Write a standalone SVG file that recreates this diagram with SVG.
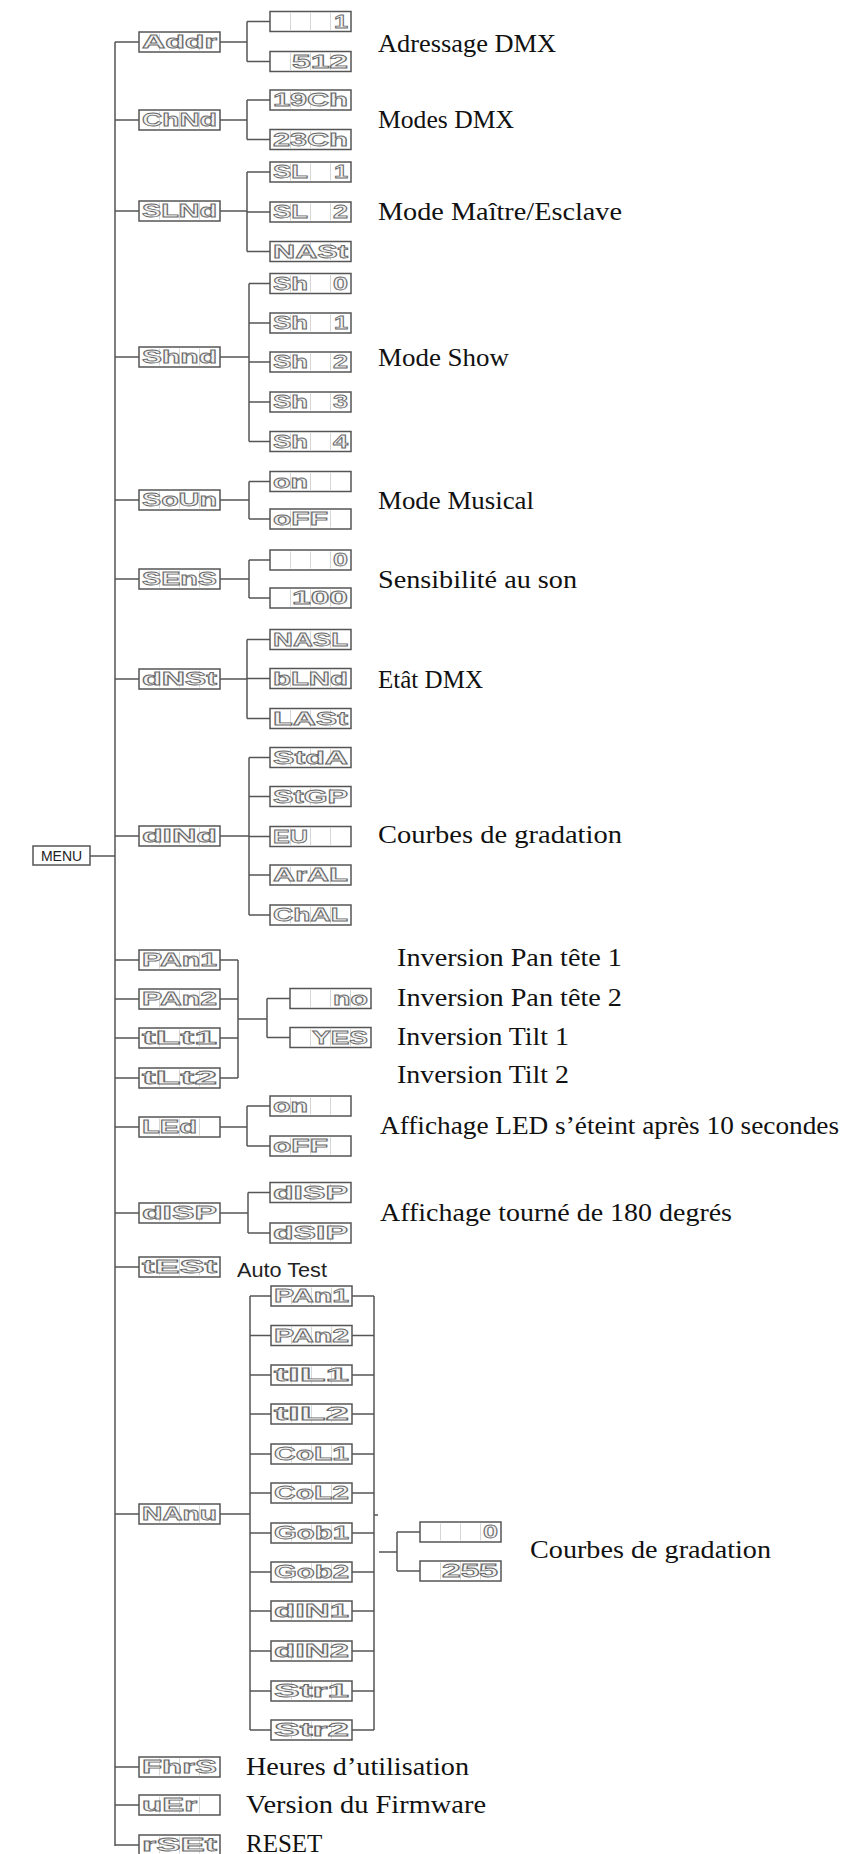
<svg xmlns="http://www.w3.org/2000/svg" width="846" height="1854" viewBox="0 0 846 1854">
<style>
.ln{stroke:#555;stroke-width:1.5;fill:none}
.bx{fill:#fff;stroke:#555;stroke-width:1.5}
.cl{stroke:#d6d6d6;stroke-width:1}
.sg{font-family:"Liberation Sans",Arial,sans-serif;font-weight:bold;font-size:18px;fill:#f2f2f2;stroke:#6a6a6a;stroke-width:0.8}
.lb{font-family:"Liberation Serif",serif;font-size:25px;fill:#111}
.sn{font-family:"Liberation Sans",Arial,sans-serif;fill:#222}
</style>
<defs>
<g id="box">
<rect class="bx" x="0" y="0" width="81" height="20"/>
<path class="cl" d="M20.5 1.5V18.5M40.5 1.5V18.5M60.5 1.5V18.5"/>
</g>
</defs>
<rect width="846" height="1854" fill="#fff"/>
<g id="connectors">
<path class="ln" d="M115 42V1846M90 856H115"/>
<path class="ln" d="M115 42H139M115 120H139M115 211H139M115 357H139M115 500H139M115 579H139M115 679H139M115 836H139M115 960H139M115 999H139M115 1038H139M115 1078H139M115 1127H139M115 1213H139M115 1267H139M115 1514H139M115 1767H139M115 1805H139M115 1845H139"/>
<path class="ln" d="M220 42H247M247 21.5V61.5M247 21.5H270M247 61.5H270"/>
<path class="ln" d="M220 120H247M247 100V139.5M247 100H270M247 139.5H270"/>
<path class="ln" d="M220 211H247M247 172V251.5M247 172H270M247 212H270M247 251.5H270"/>
<path class="ln" d="M220 357H249M249 283.5V441.5M249 283.5H270M249 323H270M249 362H270M249 402H270M249 441.5H270"/>
<path class="ln" d="M220 500H249M249 481.5V519M249 481.5H270M249 519H270"/>
<path class="ln" d="M220 579H249M249 560V598M249 560H270M249 598H270"/>
<path class="ln" d="M220 679H247M247 639.5V718.5M247 639.5H270M247 678.5H270M247 718.5H270"/>
<path class="ln" d="M220 836H249M249 757.5V915M249 757.5H270M249 796.5H270M249 836.5H270M249 875H270M249 915H270"/>
<path class="ln" d="M220 960H238M220 999H238M220 1038H238M220 1078H238M238 960V1078M238 1019H267M267 998.5V1037.5M267 998.5H290M267 1037.5H290"/>
<path class="ln" d="M220 1127H247M247 1106V1146M247 1106H270M247 1146H270"/>
<path class="ln" d="M220 1213H248M248 1192.5V1233M248 1192.5H270M248 1233H270"/>
<path class="ln" d="M220 1514H250M250 1296V1730M374 1296V1730M374 1515H378M379 1552H397M397 1532V1571M397 1532H420M397 1571H420"/>
<path class="ln" d="M250 1296H271M250 1335.5H271M250 1375H271M250 1414H271M250 1454H271M250 1493H271M250 1533H271M250 1572H271M250 1611H271M250 1651H271M250 1691H271M250 1730H271"/>
<path class="ln" d="M352 1296H374M352 1335.5H374M352 1375H374M352 1414H374M352 1454H374M352 1493H374M352 1533H374M352 1572H374M352 1611H374M352 1651H374M352 1691H374M352 1730H374"/>
</g>
<g id="n-menu"><rect class="bx" x="33" y="846" width="57" height="19"/><text class="sn" x="61.5" y="861" font-size="14" text-anchor="middle">MENU</text></g>

<g id="n-addr" transform="translate(139,32)"><use href="#box"/><text class="sg" x="3" y="16" textLength="75" lengthAdjust="spacingAndGlyphs">Addr</text></g>
<g id="n-addr-1" transform="translate(270,11.5)"><use href="#box"/><text class="sg" x="64" y="16" textLength="14" lengthAdjust="spacingAndGlyphs">1</text></g>
<g id="n-addr-512" transform="translate(270,51.5)"><use href="#box"/><text class="sg" x="22" y="16" textLength="56" lengthAdjust="spacingAndGlyphs">512</text></g>

<g id="n-chnd" transform="translate(139,110)"><use href="#box"/><text class="sg" x="3" y="16" textLength="75" lengthAdjust="spacingAndGlyphs">ChNd</text></g>
<g id="n-19ch" transform="translate(270,90)"><use href="#box"/><text class="sg" x="3" y="16" textLength="75" lengthAdjust="spacingAndGlyphs">19Ch</text></g>
<g id="n-23ch" transform="translate(270,129.5)"><use href="#box"/><text class="sg" x="3" y="16" textLength="75" lengthAdjust="spacingAndGlyphs">23Ch</text></g>

<g id="n-slnd" transform="translate(139,201)"><use href="#box"/><text class="sg" x="3" y="16" textLength="75" lengthAdjust="spacingAndGlyphs">SLNd</text></g>
<g id="n-sl1" transform="translate(270,162)"><use href="#box"/><text class="sg" x="3" y="16" textLength="35" lengthAdjust="spacingAndGlyphs">SL</text><text class="sg" x="64" y="16" textLength="14" lengthAdjust="spacingAndGlyphs">1</text></g>
<g id="n-sl2" transform="translate(270,202)"><use href="#box"/><text class="sg" x="3" y="16" textLength="35" lengthAdjust="spacingAndGlyphs">SL</text><text class="sg" x="63" y="16" textLength="15" lengthAdjust="spacingAndGlyphs">2</text></g>
<g id="n-nast" transform="translate(270,241.5)"><use href="#box"/><text class="sg" x="3" y="16" textLength="75" lengthAdjust="spacingAndGlyphs">NASt</text></g>

<g id="n-shnd" transform="translate(139,347)"><use href="#box"/><text class="sg" x="3" y="16" textLength="75" lengthAdjust="spacingAndGlyphs">Shnd</text></g>
<g id="n-sh0" transform="translate(270,273.5)"><use href="#box"/><text class="sg" x="3" y="16" textLength="35" lengthAdjust="spacingAndGlyphs">Sh</text><text class="sg" x="63" y="16" textLength="15" lengthAdjust="spacingAndGlyphs">0</text></g>
<g id="n-sh1" transform="translate(270,313)"><use href="#box"/><text class="sg" x="3" y="16" textLength="35" lengthAdjust="spacingAndGlyphs">Sh</text><text class="sg" x="64" y="16" textLength="14" lengthAdjust="spacingAndGlyphs">1</text></g>
<g id="n-sh2" transform="translate(270,352)"><use href="#box"/><text class="sg" x="3" y="16" textLength="35" lengthAdjust="spacingAndGlyphs">Sh</text><text class="sg" x="63" y="16" textLength="15" lengthAdjust="spacingAndGlyphs">2</text></g>
<g id="n-sh3" transform="translate(270,392)"><use href="#box"/><text class="sg" x="3" y="16" textLength="35" lengthAdjust="spacingAndGlyphs">Sh</text><text class="sg" x="63" y="16" textLength="15" lengthAdjust="spacingAndGlyphs">3</text></g>
<g id="n-sh4" transform="translate(270,431.5)"><use href="#box"/><text class="sg" x="3" y="16" textLength="35" lengthAdjust="spacingAndGlyphs">Sh</text><text class="sg" x="63" y="16" textLength="15" lengthAdjust="spacingAndGlyphs">4</text></g>

<g id="n-soun" transform="translate(139,490)"><use href="#box"/><text class="sg" x="3" y="16" textLength="75" lengthAdjust="spacingAndGlyphs">SoUn</text></g>
<g id="n-on1" transform="translate(270,471.5)"><use href="#box"/><text class="sg" x="3" y="16" textLength="35" lengthAdjust="spacingAndGlyphs">on</text></g>
<g id="n-off1" transform="translate(270,509)"><use href="#box"/><text class="sg" x="3" y="16" textLength="55" lengthAdjust="spacingAndGlyphs">oFF</text></g>

<g id="n-sens" transform="translate(139,569)"><use href="#box"/><text class="sg" x="3" y="16" textLength="75" lengthAdjust="spacingAndGlyphs">SEnS</text></g>
<g id="n-s0" transform="translate(270,550)"><use href="#box"/><text class="sg" x="63" y="16" textLength="15" lengthAdjust="spacingAndGlyphs">0</text></g>
<g id="n-s100" transform="translate(270,588)"><use href="#box"/><text class="sg" x="22" y="16" textLength="56" lengthAdjust="spacingAndGlyphs">100</text></g>

<g id="n-dnst" transform="translate(139,669)"><use href="#box"/><text class="sg" x="3" y="16" textLength="75" lengthAdjust="spacingAndGlyphs">dNSt</text></g>
<g id="n-nasl" transform="translate(270,629.5)"><use href="#box"/><text class="sg" x="3" y="16" textLength="75" lengthAdjust="spacingAndGlyphs">NASL</text></g>
<g id="n-blnd" transform="translate(270,668.5)"><use href="#box"/><text class="sg" x="3" y="16" textLength="75" lengthAdjust="spacingAndGlyphs">bLNd</text></g>
<g id="n-last" transform="translate(270,708.5)"><use href="#box"/><text class="sg" x="3" y="16" textLength="75" lengthAdjust="spacingAndGlyphs">LASt</text></g>

<g id="n-dind" transform="translate(139,826)"><use href="#box"/><text class="sg" x="3" y="16" textLength="75" lengthAdjust="spacingAndGlyphs">dINd</text></g>
<g id="n-stda" transform="translate(270,747.5)"><use href="#box"/><text class="sg" x="3" y="16" textLength="75" lengthAdjust="spacingAndGlyphs">StdA</text></g>
<g id="n-stgp" transform="translate(270,786.5)"><use href="#box"/><text class="sg" x="3" y="16" textLength="75" lengthAdjust="spacingAndGlyphs">StGP</text></g>
<g id="n-eu" transform="translate(270,826.5)"><use href="#box"/><text class="sg" x="3" y="16" textLength="35" lengthAdjust="spacingAndGlyphs">EU</text></g>
<g id="n-aral" transform="translate(270,865)"><use href="#box"/><text class="sg" x="3" y="16" textLength="75" lengthAdjust="spacingAndGlyphs">ArAL</text></g>
<g id="n-chal" transform="translate(270,905)"><use href="#box"/><text class="sg" x="3" y="16" textLength="75" lengthAdjust="spacingAndGlyphs">ChAL</text></g>

<g id="n-pan1" transform="translate(139,950)"><use href="#box"/><text class="sg" x="3" y="16" textLength="75" lengthAdjust="spacingAndGlyphs">PAn1</text></g>
<g id="n-pan2" transform="translate(139,989)"><use href="#box"/><text class="sg" x="3" y="16" textLength="75" lengthAdjust="spacingAndGlyphs">PAn2</text></g>
<g id="n-tlt1" transform="translate(139,1028)"><use href="#box"/><text class="sg" x="3" y="16" textLength="75" lengthAdjust="spacingAndGlyphs">tLt1</text></g>
<g id="n-tlt2" transform="translate(139,1068)"><use href="#box"/><text class="sg" x="3" y="16" textLength="75" lengthAdjust="spacingAndGlyphs">tLt2</text></g>
<g id="n-no" transform="translate(290,988.5)"><use href="#box"/><text class="sg" x="43" y="16" textLength="35" lengthAdjust="spacingAndGlyphs">no</text></g>
<g id="n-yes" transform="translate(290,1027.5)"><use href="#box"/><text class="sg" x="22" y="16" textLength="56" lengthAdjust="spacingAndGlyphs">YES</text></g>

<g id="n-led" transform="translate(139,1117)"><use href="#box"/><text class="sg" x="3" y="16" textLength="55" lengthAdjust="spacingAndGlyphs">LEd</text></g>
<g id="n-on2" transform="translate(270,1096)"><use href="#box"/><text class="sg" x="3" y="16" textLength="35" lengthAdjust="spacingAndGlyphs">on</text></g>
<g id="n-off2" transform="translate(270,1136)"><use href="#box"/><text class="sg" x="3" y="16" textLength="55" lengthAdjust="spacingAndGlyphs">oFF</text></g>

<g id="n-disp" transform="translate(139,1203)"><use href="#box"/><text class="sg" x="3" y="16" textLength="75" lengthAdjust="spacingAndGlyphs">dISP</text></g>
<g id="n-disp1" transform="translate(270,1182.5)"><use href="#box"/><text class="sg" x="3" y="16" textLength="75" lengthAdjust="spacingAndGlyphs">dISP</text></g>
<g id="n-disp2" transform="translate(270,1223)"><use href="#box"/><text class="sg" x="3" y="16" textLength="75" lengthAdjust="spacingAndGlyphs">dSIP</text></g>

<g id="n-test" transform="translate(139,1257)"><use href="#box"/><text class="sg" x="3" y="16" textLength="75" lengthAdjust="spacingAndGlyphs">tESt</text></g>

<g id="n-manu" transform="translate(139,1504)"><use href="#box"/><text class="sg" x="3" y="16" textLength="75" lengthAdjust="spacingAndGlyphs">NAnu</text></g>
<g id="n-m-pan1" transform="translate(271,1286)"><use href="#box"/><text class="sg" x="3" y="16" textLength="75" lengthAdjust="spacingAndGlyphs">PAn1</text></g>
<g id="n-m-pan2" transform="translate(271,1325.5)"><use href="#box"/><text class="sg" x="3" y="16" textLength="75" lengthAdjust="spacingAndGlyphs">PAn2</text></g>
<g id="n-m-til1" transform="translate(271,1365)"><use href="#box"/><text class="sg" x="3" y="16" textLength="75" lengthAdjust="spacingAndGlyphs">tIL1</text></g>
<g id="n-m-til2" transform="translate(271,1404)"><use href="#box"/><text class="sg" x="3" y="16" textLength="75" lengthAdjust="spacingAndGlyphs">tIL2</text></g>
<g id="n-m-col1" transform="translate(271,1444)"><use href="#box"/><text class="sg" x="3" y="16" textLength="75" lengthAdjust="spacingAndGlyphs">CoL1</text></g>
<g id="n-m-col2" transform="translate(271,1483)"><use href="#box"/><text class="sg" x="3" y="16" textLength="75" lengthAdjust="spacingAndGlyphs">CoL2</text></g>
<g id="n-m-gob1" transform="translate(271,1523)"><use href="#box"/><text class="sg" x="3" y="16" textLength="75" lengthAdjust="spacingAndGlyphs">Gob1</text></g>
<g id="n-m-gob2" transform="translate(271,1562)"><use href="#box"/><text class="sg" x="3" y="16" textLength="75" lengthAdjust="spacingAndGlyphs">Gob2</text></g>
<g id="n-m-din1" transform="translate(271,1601)"><use href="#box"/><text class="sg" x="3" y="16" textLength="75" lengthAdjust="spacingAndGlyphs">dIN1</text></g>
<g id="n-m-din2" transform="translate(271,1641)"><use href="#box"/><text class="sg" x="3" y="16" textLength="75" lengthAdjust="spacingAndGlyphs">dIN2</text></g>
<g id="n-m-str1" transform="translate(271,1681)"><use href="#box"/><text class="sg" x="3" y="16" textLength="75" lengthAdjust="spacingAndGlyphs">Str1</text></g>
<g id="n-m-str2" transform="translate(271,1720)"><use href="#box"/><text class="sg" x="3" y="16" textLength="75" lengthAdjust="spacingAndGlyphs">Str2</text></g>
<g id="n-v0" transform="translate(420,1522)"><use href="#box"/><text class="sg" x="63" y="16" textLength="15" lengthAdjust="spacingAndGlyphs">0</text></g>
<g id="n-v255" transform="translate(420,1561)"><use href="#box"/><text class="sg" x="22" y="16" textLength="56" lengthAdjust="spacingAndGlyphs">255</text></g>

<g id="n-hrs" transform="translate(139,1757)"><use href="#box"/><text class="sg" x="3" y="16" textLength="75" lengthAdjust="spacingAndGlyphs">FhrS</text></g>
<g id="n-ver" transform="translate(139,1795)"><use href="#box"/><text class="sg" x="3" y="16" textLength="55" lengthAdjust="spacingAndGlyphs">uEr</text></g>
<g id="n-rset" transform="translate(139,1835)"><use href="#box"/><text class="sg" x="3" y="16" textLength="75" lengthAdjust="spacingAndGlyphs">rSEt</text></g>

<g id="labels">
<text class="lb" x="378" y="52" textLength="178" lengthAdjust="spacingAndGlyphs">Adressage DMX</text>
<text class="lb" x="378" y="128" textLength="136" lengthAdjust="spacingAndGlyphs">Modes DMX</text>
<text class="lb" x="378" y="220" textLength="244" lengthAdjust="spacingAndGlyphs">Mode Maître/Esclave</text>
<text class="lb" x="378" y="366" textLength="131" lengthAdjust="spacingAndGlyphs">Mode Show</text>
<text class="lb" x="378" y="509" textLength="156" lengthAdjust="spacingAndGlyphs">Mode Musical</text>
<text class="lb" x="378" y="588" textLength="199" lengthAdjust="spacingAndGlyphs">Sensibilité au son</text>
<text class="lb" x="378" y="688" textLength="105" lengthAdjust="spacingAndGlyphs">Etât DMX</text>
<text class="lb" x="378" y="843" textLength="244" lengthAdjust="spacingAndGlyphs">Courbes de gradation</text>
<text class="lb" x="397" y="966" textLength="225" lengthAdjust="spacingAndGlyphs">Inversion Pan tête 1</text>
<text class="lb" x="397" y="1006" textLength="225" lengthAdjust="spacingAndGlyphs">Inversion Pan tête 2</text>
<text class="lb" x="397" y="1045" textLength="172" lengthAdjust="spacingAndGlyphs">Inversion Tilt 1</text>
<text class="lb" x="397" y="1083" textLength="172" lengthAdjust="spacingAndGlyphs">Inversion Tilt 2</text>
<text class="lb" x="380" y="1134" textLength="459" lengthAdjust="spacingAndGlyphs">Affichage LED s’éteint après 10 secondes</text>
<text class="lb" x="380" y="1221" textLength="352" lengthAdjust="spacingAndGlyphs">Affichage tourné de 180 degrés</text>
<text class="sn" x="237" y="1277" font-size="20" textLength="90" lengthAdjust="spacingAndGlyphs">Auto Test</text>
<text class="lb" x="530" y="1558" textLength="241" lengthAdjust="spacingAndGlyphs">Courbes de gradation</text>
<text class="lb" x="246" y="1775" textLength="223" lengthAdjust="spacingAndGlyphs">Heures d’utilisation</text>
<text class="lb" x="246" y="1813" textLength="240" lengthAdjust="spacingAndGlyphs">Version du Firmware</text>
<text class="lb" x="246" y="1852">RESET</text>
</g>
</svg>
